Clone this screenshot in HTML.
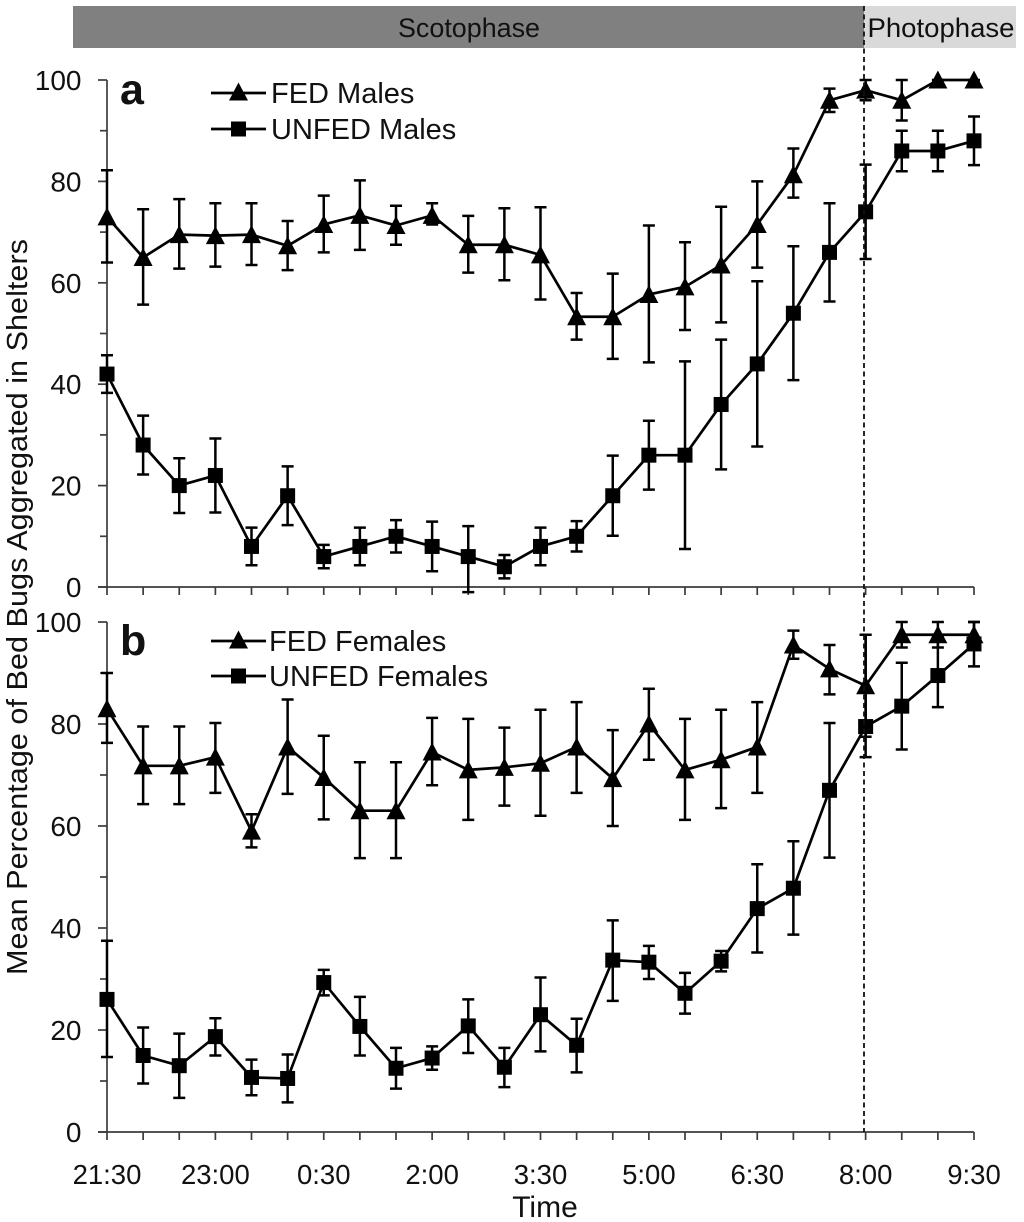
<!DOCTYPE html>
<html lang="en">
<head>
<meta charset="utf-8">
<title>Bed bug aggregation in shelters</title>
<style>
html,body{margin:0;padding:0;background:#fff;}
svg{display:block;}
text{font-family:"Liberation Sans",sans-serif;fill:#111;}
</style>
</head>
<body>
<svg id="chart" xmlns="http://www.w3.org/2000/svg" width="1024" height="1222" viewBox="0 0 1024 1222">
  <g>
    <rect x="73" y="6" width="791" height="42" fill="#808080"/>
    <rect x="864" y="6" width="152" height="42" fill="#d9d9d9"/>
    <text x="469" y="37" font-size="27" text-anchor="middle" textLength="142" lengthAdjust="spacingAndGlyphs">Scotophase</text>
    <text x="941" y="37" font-size="27" text-anchor="middle" textLength="147" lengthAdjust="spacingAndGlyphs">Photophase</text>
  </g>
  <text x="120" y="104" font-size="43" font-weight="bold" fill="#000">a</text>
  <text x="120" y="655" font-size="43" font-weight="bold" fill="#000">b</text>
  <text transform="translate(27,607) rotate(-90)" font-size="28.5" text-anchor="middle" textLength="736" lengthAdjust="spacingAndGlyphs">Mean Percentage of Bed Bugs Aggregated in Shelters</text>
  <text x="545" y="1217" font-size="30" text-anchor="middle">Time</text>
  <g id="plot"></g>
  <line x1="864" y1="6" x2="864" y2="1132" stroke="#111" stroke-width="1.8" stroke-dasharray="5 3.5"/>
</svg>
<script>
const xLabels = ["21:30","23:00","0:30","2:00","3:30","5:00","6:30","8:00","9:30"];
const yTickLabels = [0,20,40,60,80,100];
const yMinorTicks = [10,30,50,70,90];

const fedMales = [73,65,69.5,69.3,69.5,67.3,71.5,73.3,71.3,73.3,67.5,67.5,65.5,53.3,53.3,57.7,59.2,63.5,71.5,81.3,96,98,96,100,100];
const fedMalesUpper = [82.2,74.5,76.5,75.7,75.7,72.2,77.2,80.2,75.2,75.7,73.2,74.7,74.9,58,61.8,71.3,68,75,80,86.5,98.3,100,100,100,100];
const fedMalesLower = [64,55.7,62.8,63.2,63.5,62.5,66,66.5,67.5,71.5,62,60.5,56.7,48.8,45,44.3,50.7,52.2,63,76.8,93.7,96,92,100,100];

const unfedMales = [42,28,20,22,8,18,6,8,10,8,6,4,8,10,18,26,26,36,44,54,66,74,86,86,88];
const unfedMalesUpper = [45.7,33.8,25.4,29.3,11.7,23.8,8.3,11.7,13.2,12.9,12,6.3,11.7,13,25.9,32.8,44.5,48.8,60.3,67.2,75.7,83.3,90,90,92.8];
const unfedMalesLower = [38.3,22.2,14.6,14.7,4.3,12.2,3.7,4.3,6.8,3.1,-1,1.7,4.3,7,10.1,19.2,7.5,23.2,27.7,40.8,56.3,64.7,82,82,83.2];

const fedFemales = [83,71.8,71.8,73.5,59,75.5,69.5,63,63,74.5,71,71.5,72.3,75.5,69.3,80,71,73,75.5,95.5,90.8,87.5,97.5,97.5,97.5];
const fedFemalesUpper = [90,79.5,79.5,80.2,62.3,84.8,77.7,72.5,72.5,81.2,81,79.3,82.8,84.3,78.8,86.9,81,82.8,84.3,98.3,95.5,97.5,100,100,100];
const fedFemalesLower = [76.3,64.3,64.3,66.5,55.8,66.3,61.3,53.7,53.7,68,61.2,64,62,66.5,60,73,61.2,63.5,66.5,92.8,85.8,77.5,95,95,95];

const unfedFemales = [26,15,13,18.7,10.7,10.5,29.3,20.7,12.5,14.5,20.8,12.7,23,17,33.7,33.3,27.2,33.5,43.8,47.8,67,79.5,83.5,89.5,95.7];
const unfedFemalesUpper = [37.5,20.5,19.3,22.3,14.2,15.2,31.8,26.5,16.5,16.8,26,16.5,30.3,22.2,41.5,36.5,31.2,35.5,52.5,57,80.2,97.5,92,97,100];
const unfedFemalesLower = [14.7,9.5,6.7,15,7.2,5.8,26.8,15,8.5,12.2,15.5,8.8,15.8,11.7,25.7,30,23.2,31.5,35.2,38.7,53.8,73.5,75,83.3,91.3];

const legendNamesA = ["FED Males","UNFED Males"];
const legendNamesB = ["FED Females","UNFED Females"];

const NS = "http://www.w3.org/2000/svg";
const plot = document.getElementById("plot");
const X0 = 107, X1 = 974, STEPS = fedMales.length - 1;
function xPos(i){ return X0 + (X1 - X0) * i / STEPS; }
function yScale(top, bottom){ return function(v){ return bottom - (bottom - top) * v / 100; }; }

function make(tag, attrs, parent){
  const el = document.createElementNS(NS, tag);
  for (const k in attrs) el.setAttribute(k, attrs[k]);
  parent.appendChild(el);
  return el;
}
function triPoints(x, y){ return (x-9.5)+","+(y+8.5)+" "+x+","+(y-9.5)+" "+(x+9.5)+","+(y+8.5); }

function drawAxes(y, bottom, panel){
  const g = make("g", {}, plot);
  
  
  const axisStyle = {stroke:"#3c3c3c","stroke-width":1.7};
  const yAxis = make("line", Object.assign({x1:X0,x2:X0,y1:y(100),y2:y(0)}, axisStyle), g);
  
  
  const xAxis = make("line", Object.assign({x1:X0-9,x2:X1,y1:y(0),y2:y(0)}, axisStyle), g);
  
  
  for (let i = 0; i <= STEPS; i++){
    const t = make("line", Object.assign({x1:xPos(i),x2:xPos(i),y1:y(0),y2:y(0)+8}, axisStyle), g);
    
    
  }
  yTickLabels.forEach(function(v){
    const t = make("line", Object.assign({x1:X0-9,x2:X0,y1:y(v),y2:y(v)}, axisStyle), g);
    
    
    const lab = make("text", {x:81.5,y:y(v)+10,"font-size":28,"text-anchor":"end"}, g);
    
    
    lab.textContent = v;
  });
  yMinorTicks.forEach(function(v){
    const t = make("line", Object.assign({x1:X0-7,x2:X0,y1:y(v),y2:y(v)}, axisStyle), g);
    
    
  });
}

function drawSeries(vals, up, lo, y, shape, name){
  const g = make("g", {}, plot);
  
  
  vals.forEach(function(v, i){
    const x = xPos(i);
    const eb = make("path", {d:"M"+(x-6)+" "+y(up[i])+"H"+(x+6)+"M"+x+" "+y(up[i])+"V"+y(lo[i])+"M"+(x-6)+" "+y(lo[i])+"H"+(x+6),
      fill:"none",stroke:"#000","stroke-width":2.5}, g);
    
    
  });
  const line = make("polyline", {points:vals.map(function(v,i){return xPos(i)+","+y(v);}).join(" "),fill:"none",stroke:"#000","stroke-width":2.7,"stroke-linejoin":"round"}, g);
  
  
  vals.forEach(function(v, i){
    const x = xPos(i), py = y(v);
    let m;
    if (shape === "tri") m = make("polygon", {points:triPoints(x, py), fill:"#000"}, g);
    else m = make("rect", {x:x-7.5, y:py-7.5, width:15, height:15, fill:"#000"}, g);
    
    
  });
}

function drawLegend(names, y1, y2, textX, panel){
  const g = make("g", {}, plot);
  
  
  [y1, y2].forEach(function(ly, idx){
    const entry = make("g", {}, g);
    
    
    make("line", {x1:211,x2:266,y1:ly,y2:ly,stroke:"#000","stroke-width":2.7}, entry);
    if (idx === 0) make("polygon", {points:triPoints(238.5, ly-1), fill:"#000"}, entry);
    else make("rect", {x:231, y:ly-7.5, width:15, height:15, fill:"#000"}, entry);
    const t = make("text", {x:textX,y:ly+10,"font-size":29}, entry);
    t.textContent = names[idx];
  });
}

const yA = yScale(80, 587);
const yB = yScale(622, 1132);

drawAxes(yA, 587, "panel-a");
drawAxes(yB, 1132, "panel-b");

drawSeries(fedMales, fedMalesUpper, fedMalesLower, yA, "tri", "fed-males");
drawSeries(unfedMales, unfedMalesUpper, unfedMalesLower, yA, "sq", "unfed-males");
drawSeries(fedFemales, fedFemalesUpper, fedFemalesLower, yB, "tri", "fed-females");
drawSeries(unfedFemales, unfedFemalesUpper, unfedFemalesLower, yB, "sq", "unfed-females");

drawLegend(legendNamesA, 93, 129, 271, "panel-a");
drawLegend(legendNamesB, 641, 676, 269, "panel-b");

xLabels.forEach(function(label, i){
  const t = make("text", {x:xPos(i*3),y:1184,"font-size":27.5,"text-anchor":"middle"}, plot);
  
  
  t.textContent = label;
});
</script>
</body>
</html>
